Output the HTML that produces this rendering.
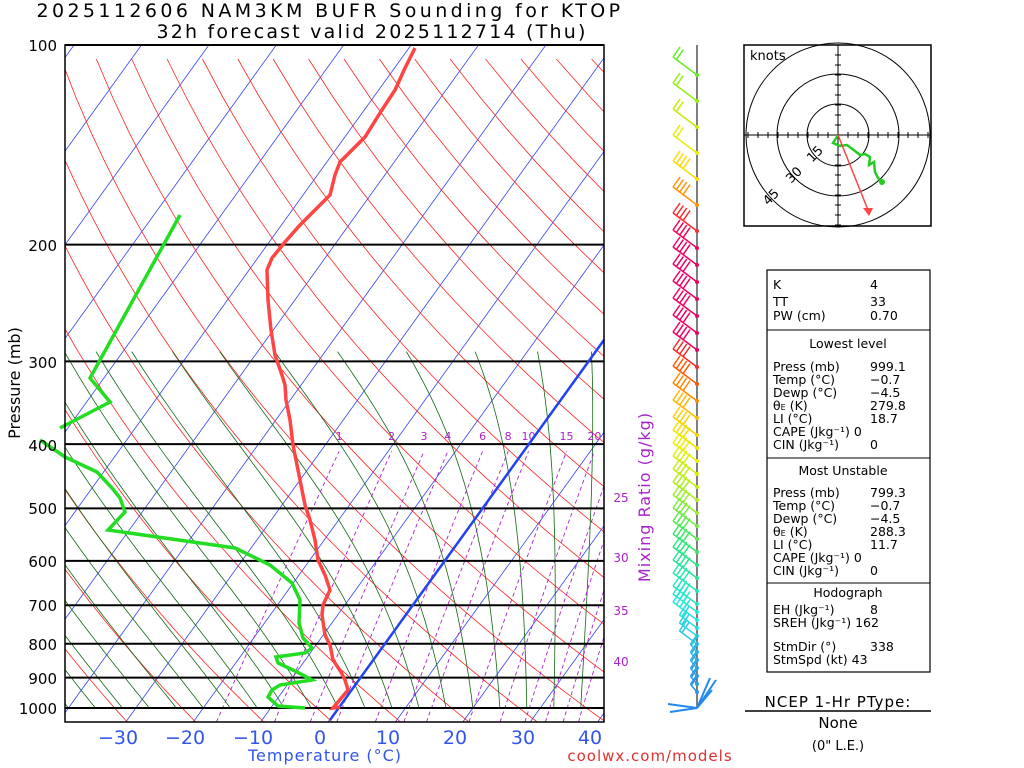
<!DOCTYPE html>
<html><head><meta charset="utf-8"><style>
body{margin:0;background:#fff;width:1024px;height:768px;overflow:hidden}
svg{display:block;font-family:"DejaVu Sans","Liberation Sans",sans-serif}
</style></head><body>
<svg id="s" width="1024" height="768" xmlns="http://www.w3.org/2000/svg">
<defs><clipPath id="c"><rect x="65" y="45" width="539" height="677"/></clipPath></defs>
<g id="bg" clip-path="url(#c)"></g>
<g id="fg"></g>
<rect x="65" y="45" width="539" height="677" fill="none" stroke="#000" stroke-width="1.5"/>
<text x="330" y="17" font-size="19" letter-spacing="3.4" text-anchor="middle">2025112606 NAM3KM BUFR Sounding for KTOP</text>
<text x="372" y="38" font-size="19" letter-spacing="2.2" text-anchor="middle">32h forecast valid 2025112714 (Thu)</text>
<g font-size="15" text-anchor="end">
<text x="57" y="51">100</text><text x="57" y="251">200</text><text x="57" y="368">300</text><text x="57" y="451">400</text><text x="57" y="514">500</text><text x="57" y="567">600</text><text x="57" y="611">700</text><text x="57" y="650">800</text><text x="57" y="684">900</text><text x="57" y="714">1000</text>
</g>
<text transform="translate(20,383) rotate(-90)" font-size="16" text-anchor="middle">Pressure (mb)</text>
<g font-size="19" fill="#3355ee" text-anchor="middle">
<text x="118" y="744">−30</text><text x="185" y="744">−20</text><text x="253" y="744">−10</text><text x="320" y="744">0</text><text x="388" y="744">10</text><text x="455" y="744">20</text><text x="523" y="744">30</text><text x="590" y="744">40</text>
</g>
<text x="325" y="761" font-size="16" fill="#3355ee" text-anchor="middle" letter-spacing="1">Temperature (°C)</text>
<text x="650" y="761" font-size="15" fill="#e03030" text-anchor="middle" letter-spacing="1">coolwx.com/models</text>
<text transform="translate(650,497) rotate(-90)" font-size="16" fill="#aa22cc" text-anchor="middle" letter-spacing="1">Mixing Ratio (g/kg)</text>
<g font-size="12" fill="#aa22cc" text-anchor="middle">
<text x="621" y="502">25</text><text x="621" y="562">30</text><text x="621" y="615">35</text><text x="621" y="666">40</text>
</g>
<line x1="697" y1="45" x2="697" y2="708" stroke="#555" stroke-width="1.5"/>
<g id="barbs"></g>
<rect x="744" y="45" width="187" height="181" fill="none" stroke="#000" stroke-width="1.5"/>
<g fill="none" stroke="#000">
<circle cx="838" cy="135" r="31"/><circle cx="838" cy="135" r="61"/><circle cx="838" cy="135" r="92"/>
<line x1="744" y1="135" x2="931" y2="135"/><line x1="838" y1="45" x2="838" y2="226"/>
</g>
<g id="ticks" stroke="#000"></g>
<text x="750" y="60" font-size="13">knots</text>
<g font-size="13" text-anchor="middle">
<text transform="translate(818,157) rotate(-45)">15</text>
<text transform="translate(797,178) rotate(-45)">30</text>
<text transform="translate(774,200) rotate(-45)">45</text>
</g>
<polyline points="838,135 833,143 840,146 847,145 855,151 860,155 865,154 870,157 869,165 874,162 875,172 878,178 882,182" fill="none" stroke="#22cc22" stroke-width="2.5"/>
<circle cx="882" cy="182" r="3" fill="#22cc22"/>
<line x1="838" y1="135" x2="868" y2="210" stroke="#ff4444" stroke-width="1.5"/>
<polygon points="863,208 873,208 869,216" fill="#ff4444"/>
<rect x="767" y="270" width="163" height="402" fill="none" stroke="#000" stroke-width="1.2"/>
<g stroke="#000"><line x1="767" y1="330" x2="930" y2="330"/><line x1="767" y1="458" x2="930" y2="458"/><line x1="767" y1="583" x2="930" y2="583"/></g>
<g font-size="12.5">
<text x="773" y="289">K</text><text x="870" y="289">4</text>
<text x="773" y="306">TT</text><text x="870" y="306">33</text>
<text x="773" y="320">PW (cm)</text><text x="870" y="320">0.70</text>
<text x="848" y="348" text-anchor="middle">Lowest level</text>
<text x="773" y="371">Press (mb)</text><text x="870" y="371">999.1</text>
<text x="773" y="384">Temp (°C)</text><text x="870" y="384">−0.7</text>
<text x="773" y="397">Dewp (°C)</text><text x="870" y="397">−4.5</text>
<text x="773" y="410">θ<tspan font-size="8">E</tspan> (K)</text><text x="870" y="410">279.8</text>
<text x="773" y="423">LI (°C)</text><text x="870" y="423">18.7</text>
<text x="773" y="436">CAPE (Jkg⁻¹) 0</text>
<text x="773" y="449">CIN (Jkg⁻¹)</text><text x="870" y="449">0</text>
<text x="843" y="475" text-anchor="middle">Most Unstable</text>
<text x="773" y="497">Press (mb)</text><text x="870" y="497">799.3</text>
<text x="773" y="510">Temp (°C)</text><text x="870" y="510">−0.7</text>
<text x="773" y="523">Dewp (°C)</text><text x="870" y="523">−4.5</text>
<text x="773" y="536">θ<tspan font-size="8">E</tspan> (K)</text><text x="870" y="536">288.3</text>
<text x="773" y="549">LI (°C)</text><text x="870" y="549">11.7</text>
<text x="773" y="562">CAPE (Jkg⁻¹) 0</text>
<text x="773" y="575">CIN (Jkg⁻¹)</text><text x="870" y="575">0</text>
<text x="848" y="597" text-anchor="middle">Hodograph</text>
<text x="773" y="614">EH (Jkg⁻¹)</text><text x="870" y="614">8</text>
<text x="773" y="627">SREH (Jkg⁻¹) 162</text>
<text x="773" y="651">StmDir (°)</text><text x="870" y="651">338</text>
<text x="773" y="664">StmSpd (kt) 43</text>
</g>
<text x="838" y="707" font-size="15" text-anchor="middle" letter-spacing="1">NCEP 1-Hr PType:</text>
<line x1="745" y1="711" x2="931" y2="711" stroke="#000" stroke-width="1.5"/>
<text x="838" y="728" font-size="15" text-anchor="middle">None</text>
<text x="838" y="750" font-size="13" text-anchor="middle">(0" L.E.)</text>
</svg>
<script>
var NS="http://www.w3.org/2000/svg";
function el(p,t,a){var e=document.createElementNS(NS,t);for(var k in a)e.setAttribute(k,a[k]);p.appendChild(e);return e;}
var L10=Math.log(10);
function Y(p){return 45+Math.log(p/100)/L10*663;}
function X(T,y){return 328+T*6.74+(722-y)*0.72;}
var bg=document.getElementById('bg'),fg=document.getElementById('fg');
function pl(g,pts,st,w,dash){el(g,'polyline',{points:pts.map(function(q){return q[0].toFixed(1)+','+q[1].toFixed(1)}).join(' '),fill:'none',stroke:st,'stroke-width':w||1,'stroke-dasharray':dash||''});}
for(var T=-160;T<=50;T+=10){var pts=[];[1050,90].forEach(function(p){var y=Y(p);pts.push([X(T,y),y]);});pl(bg,pts,'#3344ee',0.8);}
for(var th=230;th<=480;th+=10){var pts=[];for(var p=1050;p>=95;p-=15){var y=Y(p);var t=th*Math.pow(p/1000,0.286)-273.15;pts.push([X(t,y),y]);}pl(bg,pts,'#ff2222',0.8);}
function es(t){return 6.112*Math.exp(17.67*t/(t+243.5));}
for(var t0=-40;t0<=40;t0+=4){var t=t0,pts=[];for(var p=1000;p>=290;p-=5){var y=Y(p);pts.push([X(t,y),y]);var TK=t+273.15,w=0.622*es(t)/(p-es(t));var g=9.8*(1+2.5e6*w/(287*TK))/(1004+2.5e6*2.5e6*w*0.622/(287*TK*TK));var dz=287*TK/(p*9.8)*5;t-=g*dz;}
pl(bg,pts,'#116611',0.8);}
[1,2,3,4,6,8,10,15,20,25,30,35,40].forEach(function(w){var pts=[];for(var p=1050;p>=400;p-=20){var e=w*p/(622+w),l=Math.log(e/6.112),td=243.5*l/(17.67-l);var y=Y(p);pts.push([X(td,y),y]);}pl(bg,pts,'#aa22cc',0.9,'4,3');
if(w<=20){var q=pts[pts.length-1];var tx=el(fg,'text',{x:q[0],y:440,'font-size':11,fill:'#aa22cc','text-anchor':'middle'});tx.textContent=w;}});
[100,200,300,400,500,600,700,800,900,1000].forEach(function(p){var y=Y(p);el(fg,'line',{x1:65,y1:y,x2:604,y2:y,stroke:'#000','stroke-width':2});});
el(fg,'line',{x1:330,y1:720,x2:604,y2:340,stroke:'#2244ee','stroke-width':2.5});
pl(fg,[[340,707],[333,708],[348,690],[345,680],[341,672],[333,660],[330,645],[325,635],[322,615],[323,605],[330,590],[325,575],[318,560],[315,540],[310,520],[305,505],[300,480],[296,460],[293,445],[290,420],[286,400],[285,385],[282,375],[275,355],[271,330],[268,300],[267,270],[272,258],[285,242],[300,225],[318,207],[330,195],[335,175],[340,162],[350,152],[365,137],[380,113],[395,90],[405,68],[415,48]],'#ff4444',3.5);
pl(fg,[[305,708],[278,706],[268,697],[272,690],[280,685],[312,680],[297,672],[278,663],[276,657],[305,653],[312,648],[303,638],[299,623],[300,600],[292,583],[270,565],[235,548],[108,530],[125,512],[120,498],[112,488],[97,472],[65,457],[40,440]],'#22dd22',3.5);
pl(fg,[[60,428],[110,402],[90,378],[100,360],[180,215]],'#22dd22',3.5);
var bgp=document.getElementById('barbs');
var ys=[];var y=75;while(y<700){ys.push(y);y+= y<225?26:(y<420?17:(y<600?13:8));}
function col(y){var stops=[[75,[100,238,34]],[130,[200,238,0]],[170,[255,238,0]],[200,[255,170,0]],[225,[255,60,30]],[250,[238,0,100]],[350,[238,0,100]],[380,[255,80,0]],[420,[255,190,0]],[460,[238,238,0]],[510,[160,238,40]],[560,[40,230,120]],[620,[40,230,220]],[700,[40,140,238]]];
for(var i=0;i<stops.length-1;i++){if(y<=stops[i+1][0]){var a=stops[i],b=stops[i+1],f=(y-a[0])/(b[0]-a[0]);return 'rgb('+a[1].map(function(v,j){return Math.round(v+(b[1][j]-v)*f)}).join(',')+')';}}return 'rgb(40,140,238)';}
ys.forEach(function(y){var c=col(y);
var len=y>620?22:30,dx=-len*0.8,dy=-len*0.6;if(y>650){dx=-len*0.3;dy=-len*0.35}
el(bgp,'line',{x1:697,y1:y,x2:697+dx,y2:y+dy,stroke:c,'stroke-width':1.5});
var n=y>620?2:(y<170?2:4);for(var k=0;k<n;k++){var f=1-k*0.14;var bx=697+dx*f,by=y+dy*f;el(bgp,'line',{x1:bx,y1:by,x2:bx+7,y2:by-10,stroke:c,'stroke-width':1.5});}
el(bgp,'circle',{cx:697,cy:y,r:2,fill:c});});
[[697,708,668,704],[697,708,670,712],[697,708,712,690],[697,708,716,680],[697,708,710,678]].forEach(function(a){el(bgp,'line',{x1:a[0],y1:a[1],x2:a[2],y2:a[3],stroke:'#2288ee','stroke-width':2});});
var tk=document.getElementById('ticks');
for(var r=10;r<=95;r+=10){[[1,0],[-1,0],[0,1],[0,-1]].forEach(function(d){var x=838+d[0]*r,y=135+d[1]*r;if(d[0])el(tk,'line',{x1:x,y1:y-3,x2:x,y2:y+3});else el(tk,'line',{x1:x-3,y1:y,x2:x+3,y2:y});});}
</script>
</body></html>
